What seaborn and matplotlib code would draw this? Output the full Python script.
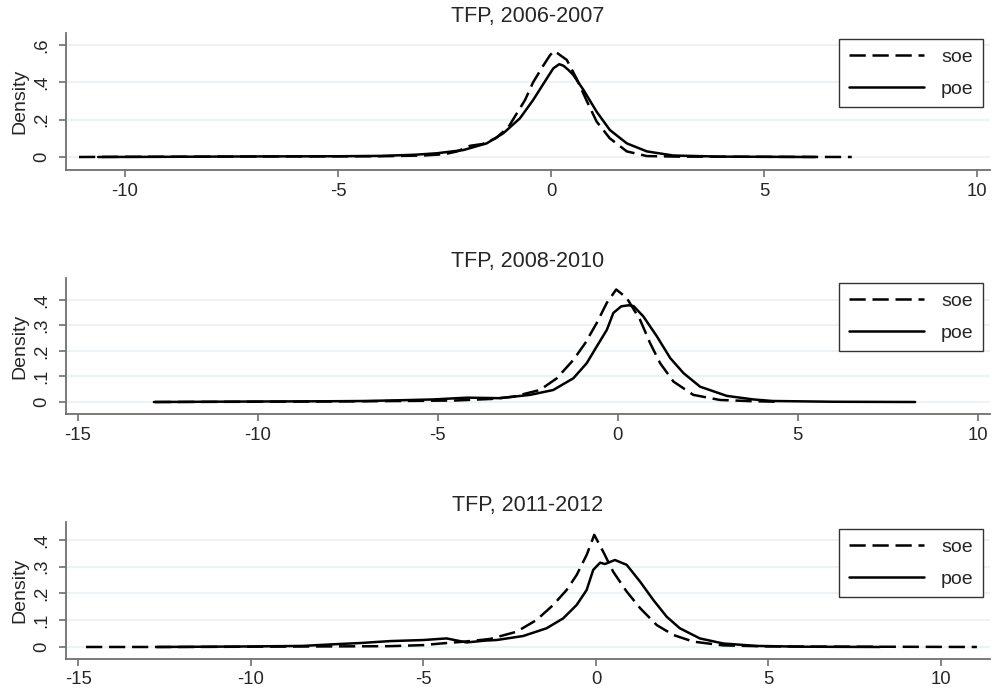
import numpy as np
import pandas as pd
import matplotlib
matplotlib.use("Agg")
import matplotlib.pyplot as plt
import seaborn as sns

# ---------------- data ----------------
titles = ["TFP, 2006-2007", "TFP, 2008-2010", "TFP, 2011-2012"]
groups = ["soe", "poe"]

p1_soe_x = [-11.08, -10, -8, -6, -4, -3, -2.5, -2.2, -1.9, -1.6, -1.3, -1.0, -0.85, -0.61, -0.42, -0.18,
            -0.02, 0.08, 0.21, 0.37, 0.6, 0.84, 1.07, 1.38, 1.78, 2.25, 3, 5, 7.06]
p1_soe_y = [0.0, 0.001, 0.002, 0.003, 0.004, 0.008, 0.015, 0.03, 0.06, 0.07, 0.1, 0.16, 0.216, 0.305, 0.40, 0.49,
            0.546, 0.568, 0.546, 0.52, 0.42, 0.30, 0.19, 0.10, 0.03, 0.005, 0.002, 0.001, 0.0]
p1_poe_x = [-10.63, -9, -7, -5, -4, -3.2, -2.68, -2.06, -1.51, -1.12, -0.73, -0.42, -0.1, 0.055, 0.195,
            0.29, 0.41, 0.52, 0.76, 1.07, 1.38, 1.78, 2.25, 2.87, 4, 6.2]
p1_poe_y = [0.0, 0.001, 0.003, 0.004, 0.006, 0.012, 0.02, 0.037, 0.073, 0.127, 0.207, 0.305, 0.42, 0.475, 0.497,
            0.489, 0.466, 0.44, 0.36, 0.243, 0.145, 0.073, 0.03, 0.008, 0.002, 0.0]

p2_soe_x = [-12.85, -10, -8, -6, -4.5, -3.5, -2.9, -2.16, -1.69, -1.23, -0.9, -0.58, -0.3, -0.04,
            0.25, 0.62, 0.9, 1.18, 1.55, 2.1, 2.84, 3.76, 4.5]
p2_soe_y = [0.0, 0.001, 0.002, 0.004, 0.006, 0.012, 0.021, 0.047, 0.093, 0.165, 0.231, 0.31, 0.389, 0.441,
            0.408, 0.323, 0.231, 0.152, 0.08, 0.028, 0.008, 0.003, 0.001]
p2_poe_x = [-12.88, -10, -8, -7, -6, -5.13, -4.19, -3.27, -2.43, -1.79, -1.23, -0.86, -0.58, -0.3, -0.12,
            0.1, 0.3, 0.44, 0.71, 1.09, 1.46, 1.83, 2.29, 3.03, 3.77, 4.3, 6, 8.26]
p2_poe_y = [0.0, 0.002, 0.003, 0.004, 0.007, 0.01, 0.017, 0.015, 0.028, 0.047, 0.093, 0.152, 0.218, 0.283, 0.349,
            0.375, 0.379, 0.376, 0.336, 0.257, 0.172, 0.113, 0.06, 0.024, 0.01, 0.004, 0.001, 0.0]

p3_soe_x = [-14.78, -12, -10, -8, -6, -5, -4.5, -4, -3.5, -3.07, -2.3, -1.72, -1.24, -0.85, -0.56, -0.27, -0.05,
            0.21, 0.5, 0.89, 1.28, 1.76, 2.24, 2.82, 3.69, 5, 8, 11.04]
p3_soe_y = [0.0, 0.0, 0.001, 0.002, 0.003, 0.007, 0.013, 0.018, 0.024, 0.03, 0.057, 0.101, 0.157, 0.213, 0.269, 0.344, 0.419,
            0.356, 0.281, 0.207, 0.145, 0.082, 0.045, 0.02, 0.006, 0.002, 0.001, 0.0]
p3_poe_x = [-12.72, -10, -8.5, -7.62, -6.8, -5.97, -5.0, -4.33, -3.75, -3.2, -2.88, -2.11, -1.43, -0.95, -0.56,
            -0.27, -0.08, 0.12, 0.26, 0.55, 0.89, 1.28, 1.66, 2.05, 2.43, 3.01, 3.69, 4.65, 6, 8.23]
p3_poe_y = [0.0, 0.002, 0.004, 0.01, 0.015, 0.022, 0.026, 0.032, 0.017, 0.024, 0.026, 0.041, 0.07, 0.107, 0.157,
            0.213, 0.288, 0.315, 0.31, 0.325, 0.307, 0.244, 0.176, 0.113, 0.07, 0.032, 0.013, 0.004, 0.001, 0.0]

x_ticks = [[-10, -5, 0, 5, 10], [-15, -10, -5, 0, 5, 10], [-15, -10, -5, 0, 5, 10]]
y_ticks = [[0, 0.2, 0.4, 0.6], [0, 0.1, 0.2, 0.3, 0.4], [0, 0.1, 0.2, 0.3, 0.4]]
y_ticklabels = [["0", ".2", ".4", ".6"], ["0", ".1", ".2", ".3", ".4"], ["0", ".1", ".2", ".3", ".4"]]

curves = [
    (p1_soe_x, p1_soe_y, p1_poe_x, p1_poe_y),
    (p2_soe_x, p2_soe_y, p2_poe_x, p2_poe_y),
    (p3_soe_x, p3_soe_y, p3_poe_x, p3_poe_y),
]

# ---------------- layout ----------------
W, H = 992, 694
axes_px = [(66, 33, 990, 170), (66, 278, 990, 414), (66, 522, 990, 659)]  # left, top, right, bottom
xlims = [(-11.385, 10.305), (-15.32, 10.34), (-15.36, 11.42)]
ylims = [(-0.0696, 0.664), (-0.047, 0.486), (-0.0449, 0.467)]
legend_tr = [(983, 39), (983, 283), (983, 529)]

sns.set_style("white")
plt.rcParams["font.family"] = ["Liberation Sans", "DejaVu Sans"]

fig = plt.figure(figsize=(W / 100, H / 100), dpi=100)
fig.patch.set_facecolor("white")

spine_col = "#707070"
dash = (6.5, 2.7)

for i in range(3):
    l, t, r, b = axes_px[i]
    ax = fig.add_axes([l / W, 1 - b / H, (r - l) / W, (b - t) / H])
    sx, sy, px_, py_ = curves[i]
    df = pd.concat([
        pd.DataFrame({"x": sx, "density": sy, "group": "soe"}),
        pd.DataFrame({"x": px_, "density": py_, "group": "poe"}),
    ], ignore_index=True)
    sns.lineplot(data=df, x="x", y="density", style="group", style_order=groups,
                 dashes={"soe": dash, "poe": ""}, color="black", linewidth=1.8,
                 estimator=None, sort=False, legend=False, ax=ax, zorder=3)
    for ln in ax.get_lines():
        ln.set_solid_joinstyle("round")
        ln.set_dash_joinstyle("round")
    ax.set_xlim(*xlims[i])
    ax.set_ylim(*ylims[i])
    ax.set_xticks(x_ticks[i])
    ax.set_xticklabels([str(v) for v in x_ticks[i]])
    ax.set_yticks(y_ticks[i])
    ax.set_yticklabels(y_ticklabels[i], rotation=90, va="center")
    ax.set_xlabel("")
    ax.set_ylabel("Density", fontsize=14, labelpad=4)
    ax.set_title(titles[i], fontsize=15.5, pad=8)
    ax.yaxis.grid(True, color="#eaf2f3", linewidth=1.3, zorder=0)
    ax.xaxis.grid(False)
    ax.set_axisbelow(True)
    for s in ["top", "right"]:
        ax.spines[s].set_visible(False)
    for s in ["left", "bottom"]:
        ax.spines[s].set_color(spine_col)
        ax.spines[s].set_linewidth(1.3)
    ax.tick_params(axis="both", which="major", direction="out", length=5, width=1.2,
                   color=spine_col, labelsize=13.3, pad=4, left=True, bottom=True)
    ax.tick_params(axis="y", pad=6)

    lines = ax.get_lines()
    lx, ly = legend_tr[i]
    leg = ax.legend(lines[:2], groups, loc="upper right",
                    bbox_to_anchor=(lx / W, 1 - ly / H), bbox_transform=fig.transFigure,
                    borderaxespad=0, fontsize=14, handlelength=3.85, handletextpad=0.9,
                    labelspacing=0.75, borderpad=0.48, frameon=True, fancybox=False,
                    framealpha=1, edgecolor="#333333")
    leg.get_frame().set_linewidth(1.0)

fig.savefig("out.png", dpi=100, facecolor="white")
